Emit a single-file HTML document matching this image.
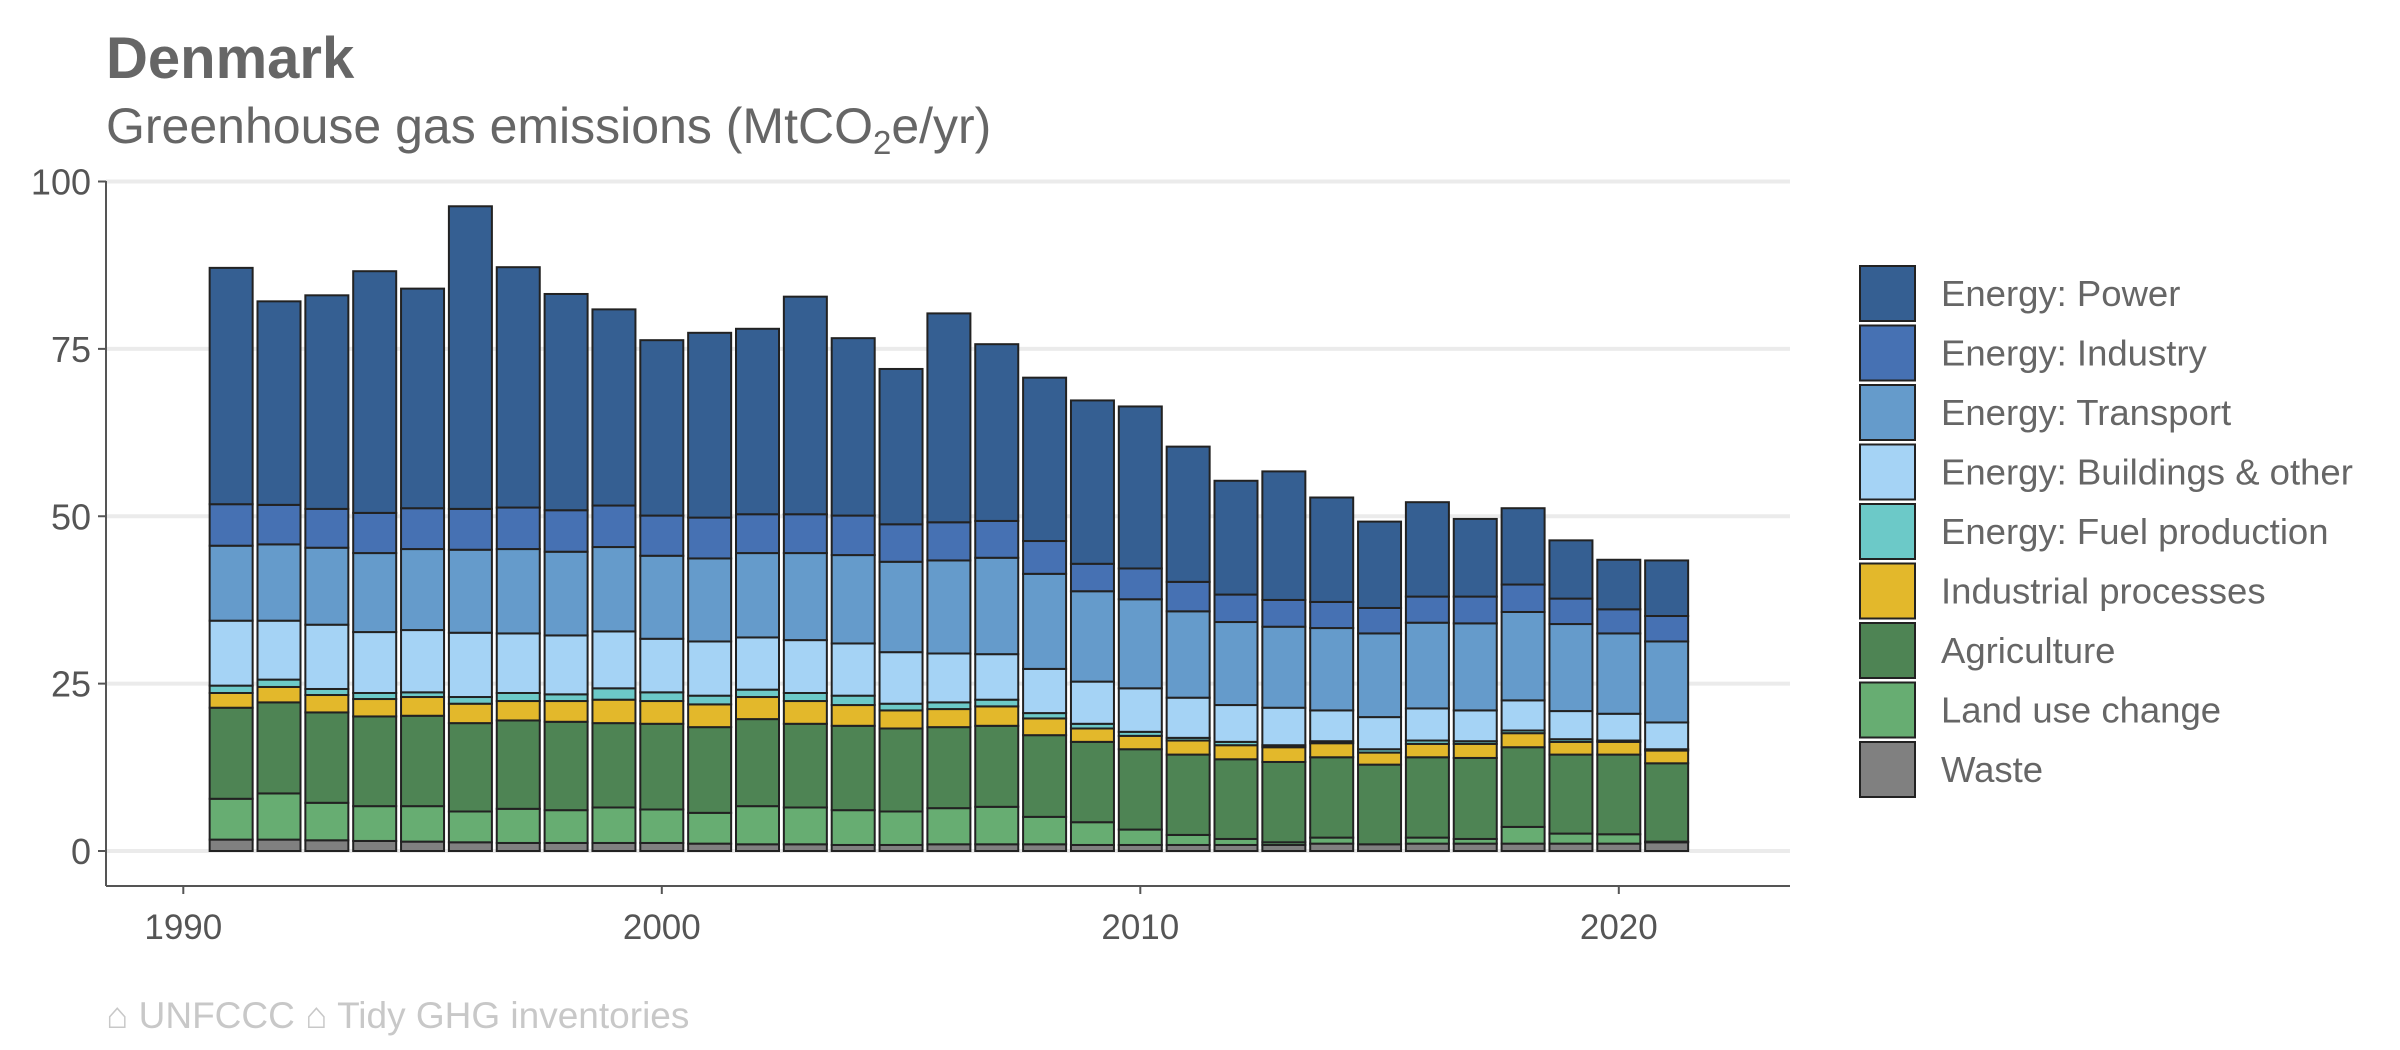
<!DOCTYPE html>
<html><head><meta charset="utf-8"><style>
html,body{margin:0;padding:0;background:#fff;}
svg{display:block;font-family:"Liberation Sans",Arial,sans-serif;}
</style></head><body>
<svg id="chart" width="2400" height="1050" viewBox="0 0 2400 1050" xmlns="http://www.w3.org/2000/svg">
<text x="106" y="78" font-size="58" font-weight="bold" fill="#666">Denmark</text>
<text x="106" y="143" font-size="50" fill="#666">Greenhouse gas emissions (MtCO<tspan font-size="33" dy="11">2</tspan><tspan dy="-11">e/yr)</tspan></text>
<g id="grid"></g>
<g id="bars"></g>
<g id="axes"></g>
<g id="legend"></g>
<text x="106" y="1028" font-size="37" fill="#c8c8c8">⌂ UNFCCC ⌂ Tidy GHG inventories</text>
</svg>
<script>
const years = [1991,1992,1993,1994,1995,1996,1997,1998,1999,2000,2001,2002,2003,2004,2005,2006,2007,2008,2009,2010,2011,2012,2013,2014,2015,2016,2017,2018,2019,2020,2021];
const waste     = [1.7,1.7,1.6,1.5,1.4,1.3,1.2,1.2,1.2,1.2,1.1,1.0,1.0,0.9,0.9,1.0,1.0,1.0,0.9,0.9,0.9,0.9,0.9,1.1,1.0,1.1,1.1,1.1,1.1,1.1,1.3];
const landUse   = [6.1,6.9,5.6,5.2,5.3,4.6,5.1,4.9,5.3,5.0,4.6,5.7,5.5,5.2,5.0,5.4,5.6,4.1,3.4,2.3,1.5,0.9,0.4,0.9,0.0,0.9,0.7,2.5,1.5,1.4,0.1];
const agriculture = [13.6,13.6,13.5,13.4,13.5,13.2,13.2,13.2,12.6,12.8,12.8,13.0,12.5,12.6,12.4,12.1,12.1,12.2,12.0,12.0,12.0,11.9,12.0,12.0,11.9,12.0,12.1,11.9,11.8,11.9,11.7];
const industrialProc = [2.2,2.3,2.6,2.6,2.8,2.9,2.9,3.1,3.5,3.4,3.4,3.3,3.4,3.1,2.7,2.7,2.9,2.5,2.0,2.0,2.1,2.1,2.2,2.1,1.8,2.0,2.1,2.1,1.9,1.9,1.9];
const fuelProd  = [1.1,1.1,0.9,0.9,0.7,1.0,1.2,1.0,1.7,1.3,1.3,1.1,1.2,1.4,1.0,1.0,1.0,0.8,0.7,0.6,0.4,0.5,0.3,0.3,0.5,0.5,0.4,0.4,0.4,0.2,0.2];
const buildings = [9.7,8.8,9.6,9.1,9.3,9.6,8.9,8.8,8.5,8.0,8.1,7.8,7.9,7.8,7.7,7.3,6.8,6.6,6.3,6.5,6.0,5.5,5.6,4.6,4.8,4.8,4.6,4.5,4.2,4.0,4.0];
const transport = [11.2,11.4,11.5,11.8,12.1,12.4,12.6,12.5,12.6,12.4,12.4,12.6,13.0,13.2,13.5,13.9,14.4,14.2,13.5,13.3,12.9,12.4,12.1,12.3,12.5,12.8,13.0,13.2,13.0,12.0,12.1];
const energyIndustry = [6.2,5.9,5.8,6.0,6.1,6.1,6.2,6.2,6.2,6.0,6.1,5.8,5.8,5.9,5.6,5.7,5.5,4.9,4.1,4.6,4.4,4.1,4.0,3.9,3.8,3.9,4.0,4.1,3.8,3.6,3.8];
const power     = [35.3,30.4,31.9,36.1,32.8,45.2,35.9,32.3,29.3,26.2,27.6,27.7,32.5,26.5,23.2,31.2,26.4,24.4,24.4,24.2,20.2,17.0,19.2,15.6,12.9,14.1,11.6,11.4,8.7,7.4,8.3];
const yTicks = [0,25,50,75,100];
const xTicks = [1990,2000,2010,2020];
const seriesNames = ["Energy: Power","Energy: Industry","Energy: Transport","Energy: Buildings & other","Energy: Fuel production","Industrial processes","Agriculture","Land use change","Waste"];

const stackOrder = [waste,landUse,agriculture,industrialProc,fuelProd,buildings,transport,energyIndustry,power];
const stackColors = ["#808080","#67ad72","#4e8454","#e3b82b","#6cc9c8","#a5d3f5","#659bcb","#4671b3","#355f92"];
const stackKeys = ["waste","land-use-change","agriculture","industrial-processes","fuel-production","buildings","transport","energy-industry","power"];
const legendColors = stackColors.slice().reverse();

const NS="http://www.w3.org/2000/svg";
const X0=106, X1=1790, Y_AXIS=886;
function xs(y){return 183.3+(y-1990)*47.85;}
function ys(v){return 851-v*6.695;}
function mk(tag,attrs,parent){const e=document.createElementNS(NS,tag);for(const k in attrs)e.setAttribute(k,attrs[k]);parent.appendChild(e);return e;}

const grid=document.getElementById('grid');
yTicks.forEach(t=>{
  const l=mk('line',{x1:X0,x2:X1,y1:ys(t),y2:ys(t),stroke:'#ebebeb','stroke-width':4},grid);
  
  
});

const bars=document.getElementById('bars');
const bw=43;
years.forEach((yr,i)=>{
  let cum=0;
  stackOrder.forEach((s,k)=>{
    const v=s[i];
    const top=ys(cum+v), bot=ys(cum);
    const r=mk('rect',{x:xs(yr)-bw/2,y:top,width:bw,height:Math.max(bot-top,0),fill:stackColors[k],stroke:'#222','stroke-width':2},bars);
    
    
    cum+=v;
  });
});

const axes=document.getElementById('axes');
const ya=mk('line',{x1:X0,x2:X0,y1:181,y2:Y_AXIS,stroke:'#555','stroke-width':2},axes);


const xa=mk('line',{x1:X0,x2:X1,y1:Y_AXIS,y2:Y_AXIS,stroke:'#555','stroke-width':2},axes);


yTicks.forEach(t=>{
  const tk=mk('line',{x1:X0-8,x2:X0,y1:ys(t),y2:ys(t),stroke:'#555','stroke-width':2},axes);
  
  
  const tx=mk('text',{x:X0-15,y:ys(t)+13,'text-anchor':'end','font-size':36,fill:'#555'},axes);
  tx.textContent=t;
  
  
});
xTicks.forEach(t=>{
  const tk=mk('line',{x1:xs(t),x2:xs(t),y1:Y_AXIS,y2:Y_AXIS+8,stroke:'#555','stroke-width':2},axes);
  
  
  const tx=mk('text',{x:xs(t),y:Y_AXIS+53,'text-anchor':'middle','font-size':35,fill:'#555'},axes);
  tx.textContent=t;
  
  
});

const legend=document.getElementById('legend');
seriesNames.forEach((n,i)=>{
  const y=266+i*59.5;
  const b=mk('rect',{x:1860,y:y,width:55,height:55,fill:legendColors[i],stroke:'#222','stroke-width':2},legend);
  
  
  const t=mk('text',{x:1941,y:y+40,'font-size':36.5,fill:'#666'},legend);
  t.textContent=n;
  
  
});
</script>
</body></html>
